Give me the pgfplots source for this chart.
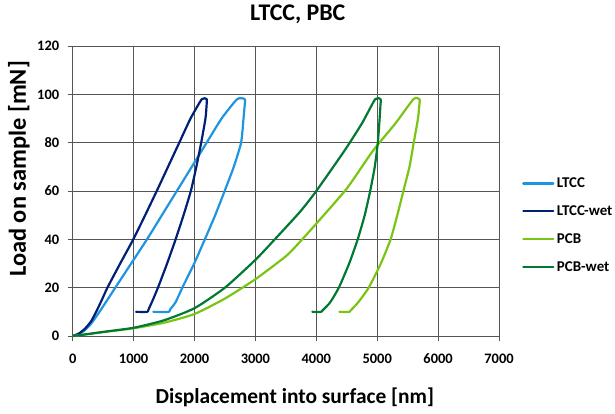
\documentclass[border=0pt]{standalone}
\usepackage{pgfplots}
\pgfplotsset{compat=1.18}
\usepackage{fontspec}
\setmainfont{Carlito}
\definecolor{ltcc}{RGB}{31,148,224}
\definecolor{ltccwet}{RGB}{0,32,120}
\definecolor{pcb}{RGB}{122,196,20}
\definecolor{pcbwet}{RGB}{0,122,51}
\definecolor{gridgray}{RGB}{85,85,85}
\pgfplotsset{curve/.style={line width=2.2pt, line join=round, line cap=round, mark=none, smooth, tension=0.35}}
\begin{document}
\begin{tikzpicture}
\path[use as bounding box] (-72.7bp,-78bp) rectangle (542.3bp,336bp);
\begin{axis}[
  at={(0,0)}, anchor=south west,
  scale only axis, width=426.3bp, height=290bp,
  xmin=0, xmax=7000, ymin=0, ymax=120,
  xtick={0,1000,...,7000}, ytick={0,20,...,120},
  axis lines*=left,
  grid=major,
  major grid style={draw=gridgray, line width=0.9pt},
  axis line style={draw=gridgray, line width=0.9pt},
  tick style={draw=gridgray, line width=0.9pt},
  tick align=outside, major tick length=5bp,
  /pgf/number format/assume math mode=true,
  /pgf/number format/set thousands separator={},
  ticklabel style={font=\bfseries\fontsize{14.5}{16}\selectfont},
  xticklabel style={yshift=-9.5bp},
  yticklabel style={xshift=-5bp},
  title={LTCC, PBC},
  title style={at={(axis description cs:0.528,1.088)}, anchor=center, font=\bfseries\fontsize{24}{28}\selectfont},
  xlabel={Displacement into surface [nm]},
  xlabel style={at={(axis description cs:0.521,-0.21)}, anchor=center, font=\bfseries\fontsize{21.5}{25}\selectfont},
  ylabel={Load on sample [mN]},
  ylabel style={at={(axis description cs:-0.126,0.576)}, anchor=center, font=\bfseries\fontsize{24.5}{28}\selectfont},
  legend style={at={(axis description cs:1.054,0.55)}, anchor=north west, draw=none, fill=none,
    inner sep=0pt, column sep=2bp, row sep=14.3bp,
    font=\bfseries\fontsize{15}{17}\selectfont,
    nodes={inner sep=0.5bp, text height=10.5bp, text depth=2bp}},
  legend cell align=left,
  legend image code/.code={\draw[#1, line width=2.2pt] (0bp,0bp) -- (30bp,0bp);},
]
\addplot[ltcc, curve] coordinates {
(0,0) (100,0.8) (200,2.4) (300,5) (440,10) (570,15) (700,20) (960,30) (1220,40)
(1465,50) (1710,60) (1955,70) (2200,80) (2445,90) (2700,98) (2825,98)
(2822,95) (2805,90) (2765,80) (2645,70) (2495,60) (2340,50) (2170,40) (1995,30)
(1800,20) (1690,14) (1600,11) (1575,10) (1323,10)};
\addlegendentry{LTCC}
\addplot[ltccwet, curve] coordinates {
(0,0) (100,1) (200,3) (300,6) (385,10) (480,15) (570,20) (780,30) (995,40)
(1190,50) (1380,60) (1565,70) (1750,80) (1935,90) (2120,98) (2200,98)
(2197,95) (2180,90) (2110,80) (2030,70) (1940,60) (1820,50) (1690,40) (1550,30)
(1400,20) (1300,14) (1245,11) (1225,10) (1042,10)};
\addlegendentry{LTCC-wet}
\addplot[pcb, curve] coordinates {
(0,0) (250,0.8) (500,1.6) (1000,3.2) (1500,5.5) (2000,9.1) (2500,15.5) (3000,23.5)
(3500,33) (3733,39) (4000,46.5) (4500,61) (4926,76.5) (5300,88) (5595,98) (5695,98)
(5690,95) (5670,90) (5600,80) (5530,70) (5430,60) (5330,50) (5220,40) (5060,30)
(4860,20) (4690,14) (4580,11) (4545,10) (4380,10)};
\addlegendentry{PCB}
\addplot[pcbwet, curve] coordinates {
(0,0) (250,0.8) (500,1.7) (1000,3.4) (1500,6.5) (2000,11.5) (2500,20) (3000,31.5)
(3300,39.5) (3733,51.4) (4000,60) (4471,77) (4750,88) (4967,98) (5055,98)
(5052,95) (5040,90) (5010,80) (4960,70) (4885,60) (4795,50) (4680,40) (4540,30)
(4370,20) (4230,14) (4120,11) (4080,10) (3935,10)};
\addlegendentry{PCB-wet}
\end{axis}
\end{tikzpicture}
\end{document}
